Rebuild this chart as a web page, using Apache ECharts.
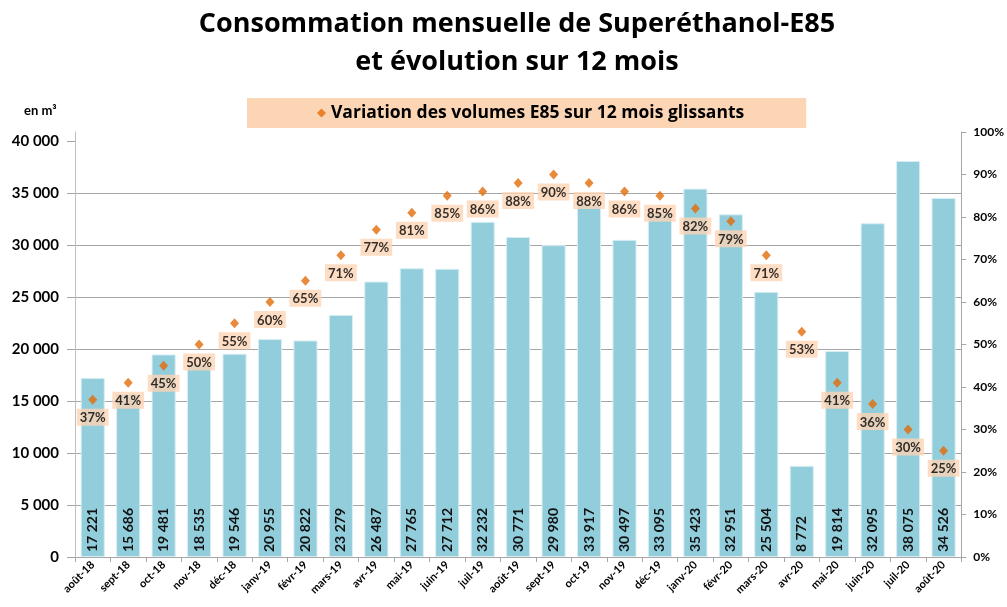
<!DOCTYPE html>
<html><head><meta charset="utf-8">
<script src="https://cdn.jsdelivr.net/npm/echarts@6/dist/echarts.min.js"></script>
<style>html,body{margin:0;padding:0;background:#fff}#c{width:1007px;height:607px}</style>
</head><body><div id="c"></div>
<script>
const months = ["août-18","sept-18","oct-18","nov-18","déc-18","janv-19","févr-19","mars-19","avr-19","mai-19","juin-19","juil-19","août-19","sept-19","oct-19","nov-19","déc-19","janv-20","févr-20","mars-20","avr-20","mai-20","juin-20","juil-20","août-20"];
const volumes = [17221,15686,19481,18535,19546,20955,20822,23279,26487,27765,27712,32232,30771,29980,33917,30497,33095,35423,32951,25504,8772,19814,32095,38075,34526];
const variation = [37,41,45,50,55,60,65,71,77,81,85,86,88,90,88,86,85,82,79,71,53,41,36,30,25];
const leftTicks = [0,5000,10000,15000,20000,25000,30000,35000,40000];
const FONT = 'Lato';
const FONT2 = '"Open Sans"';
function fmt(v){ return String(v).replace(/\B(?=(\d{3})+(?!\d))/g,' '); }

const chart = echarts.init(document.getElementById('c'), null, {renderer:'canvas'});
const leftMax = 40000*425/416;
chart.setOption({
  animation:false,
  textStyle:{fontFamily:FONT},
  title:[
    {text:'Consommation mensuelle de Superéthanol-E85\net évolution sur 12 mois', left:517, top:0, padding:[5,0,5,0],
     textAlign:'center',
     textStyle:{fontFamily:FONT2,fontSize:27,fontWeight:'bold',color:'#000',lineHeight:38}},
    {text:'en m³', left:19, top:99, textStyle:{fontFamily:FONT,fontSize:13,fontWeight:'bold',color:'#000'}}
  ],
  legend:{
    data:['Variation des volumes E85 sur 12 mois glissants'],
    top:98, left:247, padding:[6,62,6,70],
    backgroundColor:'#FCD5B5', itemWidth:9, itemHeight:9, itemGap:0,
    textStyle:{fontFamily:FONT2,fontSize:17.5,fontWeight:'bold',color:'#000'}
  },
  grid:{left:75,right:45,top:132,bottom:50,containLabel:false},
  xAxis:{type:'category',data:months,
    axisLine:{lineStyle:{color:'#A6A6A6'}},
    axisTick:{show:true,length:5,alignWithLabel:false,lineStyle:{color:'#A6A6A6'}},
    axisLabel:{rotate:45,interval:0,fontFamily:FONT,fontSize:11,fontWeight:'bold',color:'#000',margin:6}
  },
  yAxis:[
    {type:'value',min:0,max:leftMax,interval:5000,position:'left',
     axisLine:{show:true,lineStyle:{color:'#BFBFBF'}},
     axisTick:{show:true,length:8,lineStyle:{color:'#A6A6A6'},customValues:leftTicks},
     splitLine:{show:true,showMaxLine:false,lineStyle:{color:'#A6A6A6'}},
     axisLabel:{customValues:leftTicks,formatter:v=> (v%5000===0 && v<=40000) ? fmt(v) : '',fontFamily:FONT,fontSize:15,fontWeight:'bold',color:'#000',margin:16}
    },
    {type:'value',min:0,max:100,interval:10,position:'right',
     axisLine:{show:true,lineStyle:{color:'#A6A6A6'}},
     axisTick:{show:true,length:5,lineStyle:{color:'#A6A6A6'}},
     splitLine:{show:false},
     axisLabel:{formatter:'{value}%',fontFamily:FONT,fontSize:12,fontWeight:'bold',color:'#000',margin:12}
    }
  ],
  series:[
    {type:'bar',name:'Volumes',data:volumes,yAxisIndex:0,barWidth:'68%',
     itemStyle:{color:'#92CDDC',borderColor:'#DAEEF3',borderWidth:1},
     label:{show:true,position:'insideBottom',rotate:90,align:'left',verticalAlign:'middle',distance:5,
       formatter:p=>fmt(p.value),fontFamily:FONT,fontSize:14,fontWeight:'bold',color:'#111'}
    },
    {type:'scatter',name:'Variation des volumes E85 sur 12 mois glissants',data:variation,yAxisIndex:1,
     symbol:'diamond',symbolSize:[9,10],itemStyle:{color:'#E36C09'},z:5,
     label:{show:true,position:'bottom',distance:4,formatter:'{c}%',backgroundColor:'#FCD5B5',padding:[3,3,1,3],
       fontFamily:FONT,fontSize:13,fontWeight:'bold',color:'#000'}
    }
  ]
});
</script></body></html>
